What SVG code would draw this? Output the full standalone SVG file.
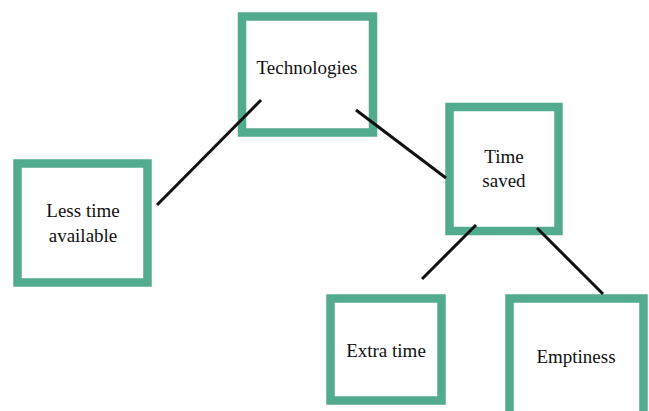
<svg xmlns="http://www.w3.org/2000/svg" width="649" height="411" viewBox="0 0 649 411">
<style>
.box{fill:#fff;stroke:#52aa8f;stroke-width:8.5}
.lbl{font-family:"Liberation Serif","Times New Roman",serif;font-size:19px;fill:#111;text-anchor:middle}
.conn line{stroke:#111;stroke-width:3}
</style>
<rect width="649" height="411" fill="#fff"/>
<g id="technologies"><rect class="box" x="242" y="16.5" width="131" height="116"/><text class="lbl" x="307" y="74">Technologies</text></g>
<g id="less-time"><rect class="box" x="17.5" y="163.5" width="130" height="119"/><text class="lbl" x="83" y="217">Less time</text><text class="lbl" x="83" y="242">available</text></g>
<g id="time-saved"><rect class="box" x="449.5" y="107" width="109" height="124"/><text class="lbl" x="504" y="163">Time</text><text class="lbl" x="504" y="187">saved</text></g>
<g id="extra-time"><rect class="box" x="330.5" y="298.5" width="111" height="102"/><text class="lbl" x="386" y="357">Extra time</text></g>
<g id="emptiness"><rect class="box" x="509.5" y="298.5" width="134" height="118"/><text class="lbl" x="576" y="363">Emptiness</text></g>
<g id="connectors" class="conn">
<line x1="261" y1="100" x2="157" y2="205"/>
<line x1="356" y1="110" x2="446" y2="178"/>
<line x1="476" y1="225" x2="422" y2="279"/>
<line x1="537" y1="228" x2="603" y2="294"/>
</g>
</svg>
